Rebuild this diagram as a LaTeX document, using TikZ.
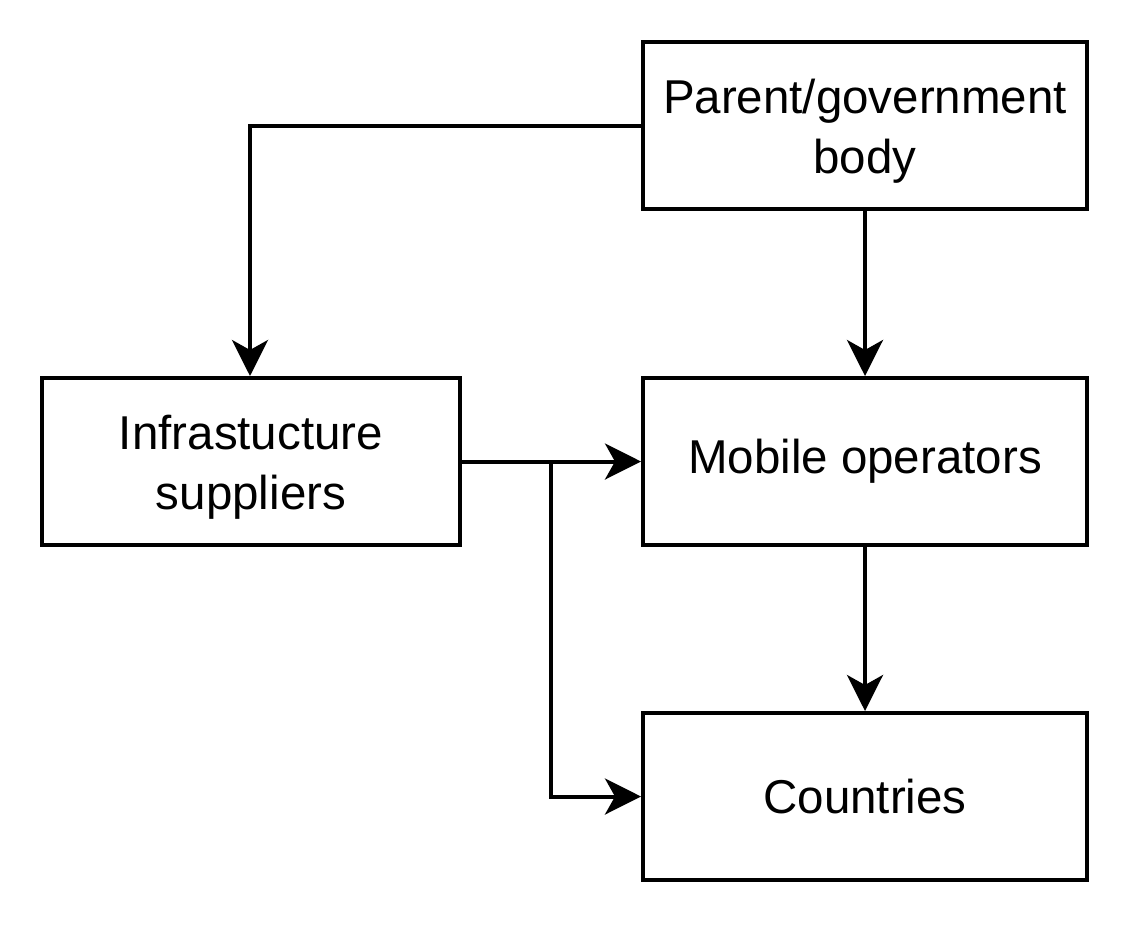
\documentclass[tikz,border=0pt]{standalone}
\usepackage{fontspec}
\setmainfont{Liberation Sans}
\usetikzlibrary{arrows.meta}
\begin{document}
\begin{tikzpicture}[x=1pt,y=-1pt,
  box/.style={draw, line width=4pt, minimum width=444pt, minimum height=167pt, inner sep=0pt},
  txt/.style={inner sep=0pt, align=center, font=\fontsize{47.5}{60}\selectfont},
  conn/.style={line width=4pt, -{Stealth[length=36pt,width=36pt,inset=10pt]}}]
\useasboundingbox (0,0) rectangle (1132,924);
\node[box] (par) at (865,125.5) {};
\node[box, minimum width=418pt] (inf) at (251,461.5) {};
\node[box] (mob) at (865,461.5) {};
\node[box] (cou) at (865,796.5) {};
\node[txt] (part) at ([yshift=-6pt]par.center) {Parent/government\\body};
\node[txt] (inft) at ([yshift=-6pt]inf.center) {Infrastucture\\suppliers};
\node[txt] (mobt) at (mob.center) {Mobile operators};
\node[txt] (cout) at (cou.center) {Countries};
\coordinate (c1) at (250,125.5);
\coordinate (b1) at (551,461.5);
\draw[conn] (par.west) -- (c1) -- (c1 |- inf.north);
\draw[conn] (par.south) -- (mob.north);
\draw[conn] (inf.east) -- (mob.west);
\draw[conn] (b1) |- (cou.west);
\draw[conn] (mob.south) -- (cou.north);
\end{tikzpicture}
\end{document}
